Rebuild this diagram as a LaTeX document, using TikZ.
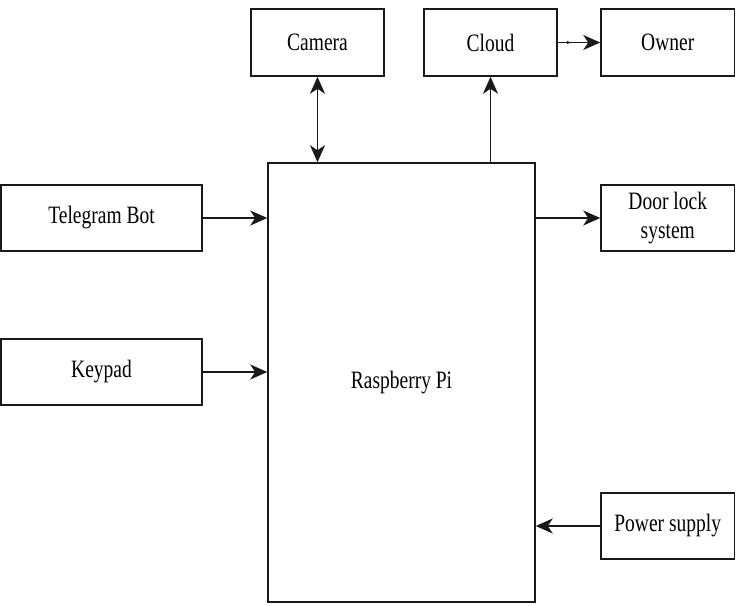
\documentclass[tikz,border=0pt]{standalone}
\usepackage{fontspec}
\setmainfont{Liberation Serif}[FakeStretch=0.78]
\usetikzlibrary{arrows.meta}
\begin{document}
\begin{tikzpicture}[x=1pt,y=-1pt,
  tip/.tip={Stealth[length=17pt,width=15pt,inset=5pt]},
  blk/.style={draw=black!90,line width=1.5pt,font=\fontsize{25}{29}\selectfont,align=center,inner sep=0pt},
  conn/.style={draw=black!90,line width=1.7pt,-tip},
  conn2/.style={draw=black!90,line width=1.7pt,tip-tip}]
\useasboundingbox (0,0) rectangle (736,605);
\def\bx#1#2#3#4#5#6{\node[blk,minimum width=#4-#2,minimum height=#5-#3] (#1) at ({(#2+#4)/2},{(#3+#5)/2}) {#6};}
\bx{cam}{251}{9}{384}{76}{Camera}
\bx{cloud}{424}{9}{557}{76}{Cloud}
\bx{owner}{601}{9}{734.5}{76}{Owner}
\bx{tg}{1}{185}{202}{251}{Telegram Bot}
\bx{key}{1}{339}{202}{405}{Keypad}
\bx{pi}{268}{163}{535}{602}{Raspberry Pi}
\bx{door}{601}{185}{734.5}{251}{Door lock\\system}
\bx{pow}{601}{493}{734.5}{559}{Power supply}
\draw[conn2] (cam.south) -- (cam.south |- pi.north);
\draw[conn] (pi.north -| cloud.south) -- (cloud.south);
\draw[conn] (cloud.east) -- (owner.west);
\fill[black!90] ([xshift=10pt]cloud.east) circle (1.7pt);
\draw[conn] (tg.east) -- (tg.east -| pi.west);
\draw[conn] (key.east) -- (key.east -| pi.west);
\draw[conn] (door.west -| pi.east) -- (door.west);
\draw[conn] (pow.west) -- (pow.west -| pi.east);
\end{tikzpicture}
\end{document}
